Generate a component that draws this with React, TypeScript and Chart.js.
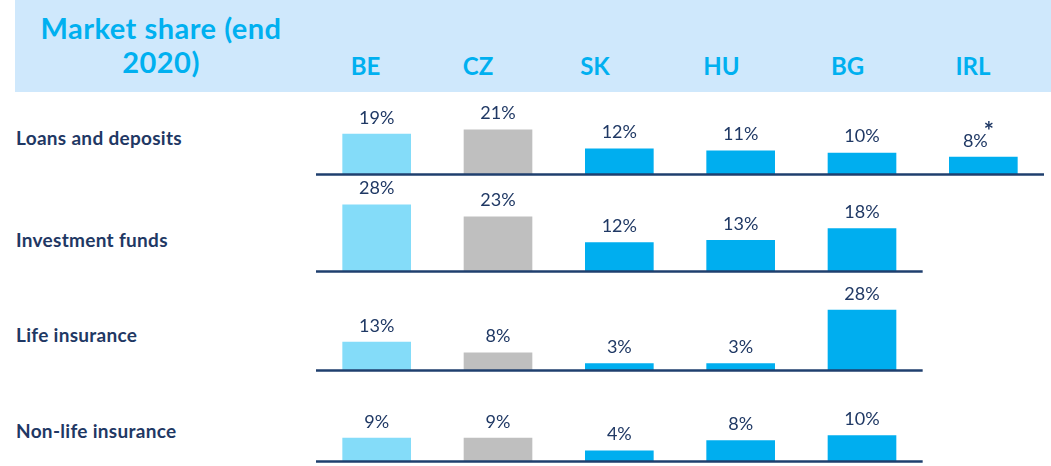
import React, { useEffect, useRef } from "react";
import { Chart, registerables } from "chart.js";

Chart.register(...registerables);

// ---- data ----
const countries = ["BE", "CZ", "SK", "HU", "BG", "IRL"];
const rowLabels = ["Loans and deposits", "Investment funds", "Life insurance", "Non-life insurance"];
const loansDeposits = [19, 21, 12, 11, 10, 8];
const investmentFunds = [28, 23, 12, 13, 18, null];
const lifeInsurance = [13, 8, 3, 3, 28, null];
const nonLifeInsurance = [9, 9, 4, 8, 10, null];
const loansNotes = ["", "", "", "", "", "*"];
const rowValues = [loansDeposits, investmentFunds, lifeInsurance, nonLifeInsurance];
const rowNotes = [loansNotes, null, null, null];
const titleLines = ["Market share (end", "2020)"];

// ---- style / layout ----
const barColors = ["#84dcf9", "#bfbfbf", "#00aeef", "#00aeef", "#00aeef", "#00aeef"];
const NAVY = "#1f3864";
const LINE = "#1f3f6e";
const FONT = "Lato, 'Open Sans', sans-serif";
const rowTops = [91, 176, 274, 373];
const rowHeights = [86, 98, 99, 91];
const rowMax = [39.5, 40.25, 44.9, 34.5];
const rowLabelTops = [128.2, 229.9, 325.2, 420.5];
const countryCenters = [365.5, 478, 595, 721.5, 847.5, 973];
const CANVAS_LEFT = 316;
const CANVAS_WIDTH = 728;

const rowPlugin = {
  id: "rowDecor",
  afterDatasetsDraw(chart: any, _args: any, opts: any) {
    const ctx = chart.ctx;
    const meta = chart.getDatasetMeta(0);
    const data = chart.data.datasets[0].data as (number | null)[];
    const xs = chart.scales.x;
    const ys = chart.scales.y;
    const base = ys.getPixelForValue(0);
    // baseline up to last category with data
    let last = 0;
    data.forEach((v, i) => {
      if (v !== null && v !== undefined) last = i;
    });
    const half = (xs.getPixelForValue(1) - xs.getPixelForValue(0)) / 2;
    ctx.save();
    ctx.strokeStyle = LINE;
    ctx.lineWidth = 2.5;
    ctx.beginPath();
    ctx.moveTo(chart.chartArea.left, base + 0.6);
    ctx.lineTo(xs.getPixelForValue(last) + half, base + 0.6);
    ctx.stroke();
    // value labels
    ctx.fillStyle = NAVY;
    ctx.textBaseline = "alphabetic";
    const notes: string[] | null = opts.notes || null;
    meta.data.forEach((el: any, i: number) => {
      const v = data[i];
      if (v === null || v === undefined) return;
      const txt = `${v}%`;
      ctx.font = `18px ${FONT}`;
      const note = notes ? notes[i] : "";
      if (note) {
        const w = ctx.measureText(txt).width;
        const cx = el.x - 8;
        ctx.textAlign = "center";
        ctx.fillText(txt, cx, el.y - 10.5);
        ctx.textAlign = "left";
        ctx.font = `bold 24px ${FONT}`;
        ctx.fillText(note, cx + w / 2 - 4, el.y - 17);
      } else {
        ctx.textAlign = "center";
        ctx.fillText(txt, el.x, el.y - 10.5);
      }
    });
    ctx.restore();
  },
};

function RowChart({ idx }: { idx: number }) {
  const ref = useRef<HTMLCanvasElement | null>(null);
  useEffect(() => {
    if (!ref.current) return;
    const chart = new Chart(ref.current, {
      type: "bar",
      data: {
        labels: countries,
        datasets: [
          {
            data: rowValues[idx] as any,
            backgroundColor: barColors,
            borderWidth: 0,
            barThickness: 68,
          },
        ],
      },
      options: {
        animation: false,
        responsive: false,
        maintainAspectRatio: false,
        layout: { padding: { left: 0, right: 0, top: 0, bottom: 3 } },
        plugins: {
          legend: { display: false },
          tooltip: { enabled: false },
          rowDecor: { notes: rowNotes[idx] },
        } as any,
        scales: {
          x: { display: false, offset: true },
          y: { display: false, min: 0, max: rowMax[idx] },
        },
      },
      plugins: [rowPlugin],
    });
    return () => chart.destroy();
  }, [idx]);
  return (
    <canvas
      ref={ref}
      width={CANVAS_WIDTH}
      height={rowHeights[idx]}
      style={{
        position: "absolute",
        left: CANVAS_LEFT,
        top: rowTops[idx],
        width: CANVAS_WIDTH,
        height: rowHeights[idx],
      }}
    />
  );
}

export default function App() {
  return (
    <div
      style={{
        position: "absolute",
        left: 0,
        top: 0,
        width: 1051,
        height: 466,
        overflow: "hidden",
        background: "#ffffff",
        fontFamily: FONT,
      }}
    >
      <div
        style={{
          position: "absolute",
          left: 15,
          top: 0,
          width: 1036,
          height: 92,
          background: "#cfe8fc",
        }}
      />
      <div
        style={{
          position: "absolute",
          left: 11,
          top: 10.8,
          width: 300,
          textAlign: "center",
          fontSize: 29,
          fontWeight: 700,
          letterSpacing: 0.5,
          lineHeight: "34px",
          color: "#00b0f0",
          whiteSpace: "nowrap",
        }}
      >
        {titleLines[0]}
        <br />
        {titleLines[1]}
      </div>
      {countries.map((c, i) => (
        <div
          key={c}
          style={{
            position: "absolute",
            left: countryCenters[i] - 50,
            top: 53.7,
            width: 100,
            textAlign: "center",
            fontSize: 24,
            fontWeight: 700,
            lineHeight: 1,
            color: "#00b0f0",
          }}
        >
          {c}
        </div>
      ))}
      {rowLabels.map((l, i) => (
        <div
          key={l}
          style={{
            position: "absolute",
            left: 16,
            top: rowLabelTops[i],
            fontSize: 19,
            fontWeight: 700,
            letterSpacing: 0.3,
            lineHeight: 1,
            color: NAVY,
            whiteSpace: "nowrap",
          }}
        >
          {l}
        </div>
      ))}
      {rowValues.map((_, i) => (
        <RowChart key={i} idx={i} />
      ))}
    </div>
  );
}
